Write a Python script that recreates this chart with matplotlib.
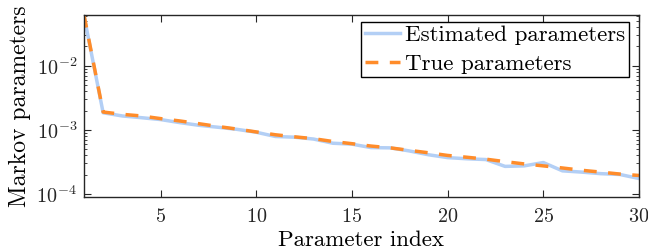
import numpy as np
import matplotlib
matplotlib.use("Agg")
import matplotlib.pyplot as plt

plt.rcParams['font.family'] = 'serif'
plt.rcParams['font.serif'] = ['cmr10']
plt.rcParams['mathtext.fontset'] = 'cm'
plt.rcParams['axes.formatter.use_mathtext'] = True

idx = np.arange(1, 31)
est = [0.06, 1.85e-3, 1.65e-3, 1.55e-3, 1.45e-3, 1.3e-3, 1.18e-3, 1.1e-3, 1.02e-3, 9.2e-4,
       7.9e-4, 7.7e-4, 7.2e-4, 6.2e-4, 6.0e-4, 5.3e-4, 5.25e-4, 4.7e-4, 4.1e-4, 3.7e-4,
       3.55e-4, 3.45e-4, 2.7e-4, 2.75e-4, 3.1e-4, 2.3e-4, 2.2e-4, 2.08e-4, 2.02e-4, 1.75e-4]
true = [0.062, 1.9e-3, 1.75e-3, 1.65e-3, 1.5e-3, 1.38e-3, 1.25e-3, 1.13e-3, 1.03e-3, 9.3e-4,
        8.4e-4, 7.8e-4, 7.3e-4, 6.6e-4, 6.1e-4, 5.6e-4, 5.25e-4, 4.8e-4, 4.4e-4, 4.0e-4,
        3.75e-4, 3.5e-4, 3.2e-4, 2.95e-4, 2.75e-4, 2.55e-4, 2.35e-4, 2.2e-4, 2.05e-4, 1.95e-4]

fig = plt.figure(figsize=(6.48, 2.52), dpi=100)
ax = fig.add_axes([84/648, 1-197/252, (639-84)/648, (197-15)/252])

ax.plot(idx, est, '-', color='#b3cff5', lw=2.5, label='Estimated parameters')
ax.plot(idx, true, '--', color='#ff8c2a', lw=2.5, dashes=(3.7, 3.3), label='True parameters')

ax.set_yscale('log')
ax.set_xlim(1, 30)
ax.set_ylim(9e-5, 0.0618)
ax.set_xticks([5, 10, 15, 20, 25, 30])
ax.tick_params(which='both', direction='in', top=True, right=True, labelsize=14.5, colors='#262626')
ax.tick_params(which='major', length=5, width=0.8)
ax.tick_params(which='minor', length=2.5, width=0.6)
ax.tick_params(axis='x', pad=8)
ax.tick_params(axis='y', pad=5)
for s in ax.spines.values():
    s.set_color('#262626')
    s.set_linewidth(1.0)

ax.set_xlabel('Parameter index', fontsize=16.5, labelpad=3)
ax.set_ylabel('Markov parameters', fontsize=17, labelpad=4)

leg = ax.legend(loc='upper right', bbox_to_anchor=(1 - 10/555, 1 - 7/182), borderaxespad=0,
                fontsize=16.5, frameon=True, fancybox=False, framealpha=1,
                edgecolor='black', borderpad=0.15, handlelength=1.55, handletextpad=0.22,
                labelspacing=0.37)
leg.get_frame().set_linewidth(1.0)

fig.savefig('out.png', dpi=100)
